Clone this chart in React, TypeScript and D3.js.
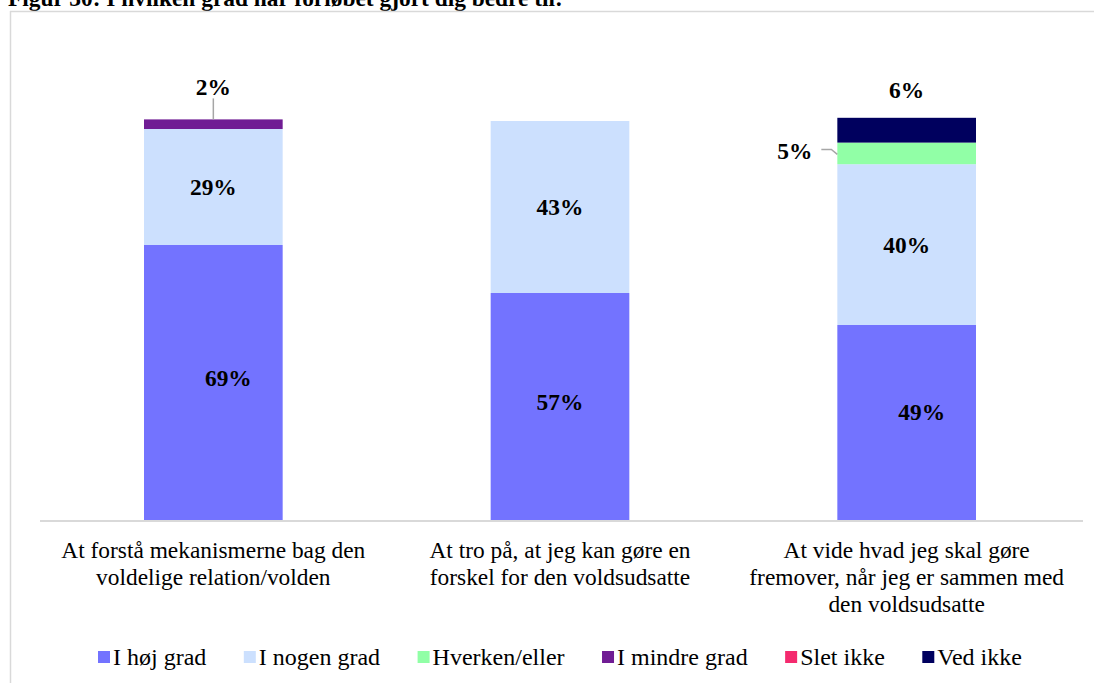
import React from "react";
import * as d3 from "d3";

const categories = [
  "At forstå mekanismerne bag den voldelige relation/volden",
  "At tro på, at jeg kan gøre en forskel for den voldsudsatte",
  "At vide hvad jeg skal gøre fremover, når jeg er sammen med den voldsudsatte",
];
const categoryLines = [
  ["At forstå mekanismerne bag den", "voldelige relation/volden"],
  ["At tro på, at jeg kan gøre en", "forskel for den voldsudsatte"],
  ["At vide hvad jeg skal gøre", "fremover, når jeg er sammen med", "den voldsudsatte"],
];
const seriesNames = ["I høj grad", "I nogen grad", "Hverken/eller", "I mindre grad", "Slet ikke", "Ved ikke"];
const seriesColors = ["#7373FF", "#CCE0FE", "#91FFA6", "#701C94", "#F42A6E", "#00005E"];
const hojGrad = [69, 57, 49];
const nogenGrad = [29, 43, 40.2];
const hverkenEller = [0, 0, 5.4];
const mindreGrad = [2.4, 0, 0];
const sletIkke = [0, 0, 0];
const vedIkke = [0, 0, 6.2];
const seriesValues = [hojGrad, nogenGrad, hverkenEller, mindreGrad, sletIkke, vedIkke];
const title = "Figur 30: I hvilken grad har forløbet gjort dig bedre til:";

const W = 1094;
const H = 683;
const FONT = "'Liberation Serif', 'Times New Roman', serif";
const FS = 23.4;
const LFS = 24;

function measure(text: string, size: number, bold = false) {
  if (typeof document === "undefined") return text.length * size * 0.45;
  const c = document.createElement("canvas").getContext("2d")!;
  c.font = `${bold ? "bold " : ""}${size}px 'Liberation Serif'`;
  return c.measureText(text).width;
}

export default function App() {
  const x = d3.scaleBand<string>().domain(categories).range([40, 1080]).paddingInner(0.6).paddingOuter(0.3);
  const y = d3.scaleLinear().domain([0, 100]).range([521, 121]);

  const table = categories.map((c, i) => {
    const row: any = { cat: c };
    seriesNames.forEach((s, j) => (row[s] = seriesValues[j][i]));
    return row;
  });
  const stacked = d3.stack<any>().keys(seriesNames)(table);

  // legend layout
  const sq = 12;
  const gapText = 3;
  const gapItem = 37.5;
  const widths = seriesNames.map((s) => sq + gapText + measure(s, LFS));
  let lx = 98;
  const legendX = widths.map((w) => {
    const v = lx;
    lx += w + gapItem;
    return v;
  });

  const labels: any[] = [];
  stacked.forEach((layer, j) => {
    layer.forEach((d, i) => {
      const v = d[1] - d[0];
      if (v <= 0) return;
      const cx = x(categories[i])! + x.bandwidth() / 2;
      const txt = `${Math.round(v)}%`;
      if (v < 8) {
        labels.push({ j, i, txt, cx, d, small: true });
      } else {
        labels.push({ j, i, txt, cx, cy: (y(d[0]) + y(d[1])) / 2, small: false });
      }
    });
  });

  return (
    <svg width={W} height={H} style={{ position: "absolute", left: 0, top: 0, background: "#fff" }} fontFamily={FONT}>
      <text x={8} y={6} fontSize={FS} fontWeight="bold" fill="#000">{title}</text>
      <line x1={10.5} y1={11} x2={10.5} y2={H} stroke="#d9d9d9" strokeWidth={1.5} />
      <line x1={10} y1={11.5} x2={W} y2={11.5} stroke="#d9d9d9" strokeWidth={1.5} />

      {stacked.map((layer, j) => (
        <g key={j} fill={seriesColors[j]}>
          {layer.map((d, i) =>
            d[1] - d[0] > 0 ? (
              <rect key={i} x={x(categories[i])} y={y(d[1])} width={x.bandwidth()} height={y(d[0]) - y(d[1])} />
            ) : null
          )}
        </g>
      ))}

      <line x1={40} y1={521} x2={1083} y2={521} stroke="#d9d9d9" strokeWidth={2} />

      {labels.map((l, k) => {
        if (!l.small) {
          const dx = l.j === 0 && l.i !== 1 ? 15 : 0;
          const dy = l.j === 0 ? (l.i === 2 ? -11 : -5) : 0;
          return (
            <text key={k} x={l.cx + dx} y={l.cy + dy} dy="0.35em" textAnchor="middle" fontSize={FS} fontWeight="bold">{l.txt}</text>
          );
        }
        const top = y(l.d[1]);
        const mid = (y(l.d[0]) + y(l.d[1])) / 2;
        if (l.j === 3) {
          return (
            <g key={k}>
              <line x1={l.cx} x2={l.cx} y1={top - 21} y2={top} stroke="#a6a6a6" strokeWidth={1.5} />
              <text x={l.cx} y={top - 33} dy="0.35em" textAnchor="middle" fontSize={FS} fontWeight="bold">{l.txt}</text>
            </g>
          );
        }
        if (l.j === 5) {
          return (
            <text key={k} x={l.cx} y={top - 28} dy="0.35em" textAnchor="middle" fontSize={FS} fontWeight="bold">{l.txt}</text>
          );
        }
        const bx = x(categories[l.i])!;
        return (
          <g key={k}>
            <polyline points={`${bx - 16},${mid - 4} ${bx - 6},${mid - 4} ${bx},${mid + 1}`} fill="none" stroke="#a6a6a6" strokeWidth={1.5} />
            <text x={bx - 25} y={mid - 3} dy="0.35em" textAnchor="end" fontSize={FS} fontWeight="bold">{l.txt}</text>
          </g>
        );
      })}

      {categoryLines.map((lines, i) => (
        <text key={i} textAnchor="middle" fontSize={FS} fill="#000">
          {lines.map((ln, k) => (
            <tspan key={k} x={x(categories[i])! + x.bandwidth() / 2} y={558 + k * 27}>{ln}</tspan>
          ))}
        </text>
      ))}

      {seriesNames.map((s, j) => (
        <g key={s} transform={`translate(${legendX[j]},657)`}>
          <rect x={0} y={-6} width={sq} height={sq} fill={seriesColors[j]} />
          <text x={sq + gapText} y={8} fontSize={LFS}>{s}</text>
        </g>
      ))}
    </svg>
  );
}
